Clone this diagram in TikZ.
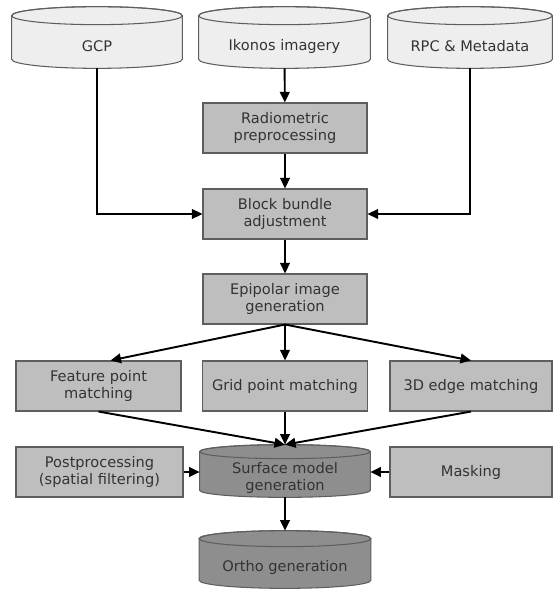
\documentclass[tikz,border=0pt]{standalone}
\usepackage{fontspec}
\setmainfont{DejaVu Sans}
\usetikzlibrary{calc,backgrounds,arrows.meta}

\definecolor{datafill}{HTML}{EEEEEE}
\definecolor{stepfill}{HTML}{BEBEBE}
\definecolor{prodfill}{HTML}{8E8E8E}
\definecolor{edgegray}{HTML}{5E5E5E}
\definecolor{textgray}{HTML}{333333}

\tikzset{
  every node/.style={font=\fontsize{8.3}{9.3}\selectfont, text=textgray, align=center},
  stepbox/.style={draw=edgegray, line width=0.6pt, fill=stepfill, minimum height=1cm, inner sep=0pt},
  cylbody/.style={inner sep=0pt},
  cylline/.style={draw=edgegray, line width=0.6pt},
  flow/.style={line width=1.1pt, -{Triangle[length=6pt,width=5.5pt]}},
}

% cylinder outline behind a named node: name, fill, y radius of the ends
\newcommand\cylback[3]{%
  \draw[cylline, fill=#2] let \p1=(#1.north west), \p2=(#1.north east), \n1={(\x2-\x1)/2} in
    ([yshift=#3]#1.north west) -- ([yshift=#3]#1.south west)
    arc[start angle=180, end angle=360, x radius=\n1, y radius=#3]
    -- ([yshift=#3]#1.north east)
    arc[start angle=0, end angle=180, x radius=\n1, y radius=#3] -- cycle;
  \draw[cylline] let \p1=(#1.north west), \p2=(#1.north east), \n1={(\x2-\x1)/2} in
    ([yshift=#3]#1.north) ellipse[x radius=\n1, y radius=#3];
}

\begin{document}
\begin{tikzpicture}
  \useasboundingbox (0,0) rectangle (11.06,-11.84);
  % input data
  \node[cylbody, minimum width=3.4cm, minimum height=0.86cm] (gcp) at (1.94,-0.93) {GCP};
  \node[cylbody, minimum width=3.42cm, minimum height=0.86cm] (ikonos) at (5.69,-0.93) {Ikonos imagery};
  \node[cylbody, minimum width=3.28cm, minimum height=0.86cm] (rpc) at (9.4,-0.93) {RPC \& Metadata};
  % processing chain
  \node[stepbox, minimum width=3.28cm] (radio) at (5.7,-2.56) {Radiometric\\preprocessing};
  \node[stepbox, minimum width=3.28cm] (bundle) at (5.7,-4.28) {Block bundle\\adjustment};
  \node[stepbox, minimum width=3.28cm] (epi) at (5.7,-5.98) {Epipolar image\\generation};
  \node[stepbox, minimum width=3.3cm] (feat) at (1.97,-7.72) {Feature point\\matching};
  \node[stepbox, minimum width=3.3cm] (grid) at (5.7,-7.72) {Grid point matching};
  \node[stepbox, minimum width=3.24cm] (edge) at (9.42,-7.72) {3D edge matching};
  \node[stepbox, minimum width=3.34cm] (post) at (1.99,-9.44) {Postprocessing\\(spatial filtering)};
  \node[stepbox, minimum width=3.24cm] (mask) at (9.42,-9.44) {Masking};
  % products
  \node[cylbody, minimum width=3.4cm, minimum height=0.76cm] (surf) at (5.7,-9.56) {Surface model\\generation};
  \node[cylbody, minimum width=3.42cm, minimum height=0.82cm] (ortho) at (5.7,-11.35) {Ortho generation};
  \coordinate (surftop) at ([yshift=0.28cm]surf.north);
  \coordinate (orthotop) at ([yshift=0.32cm]ortho.north);

  \begin{scope}[on background layer]
    \cylback{gcp}{datafill}{0.18cm}
    \cylback{ikonos}{datafill}{0.18cm}
    \cylback{rpc}{datafill}{0.18cm}
    \cylback{surf}{prodfill}{0.14cm}
    \cylback{ortho}{prodfill}{0.16cm}
  \end{scope}

  \draw[flow] (ikonos) -- (radio);
  \draw[flow] (radio) -- (bundle);
  \draw[flow] (gcp.south) |- (bundle.west);
  \draw[flow] (rpc.south) |- (bundle.east);
  \draw[flow] (bundle) -- (epi);
  \draw[flow] (epi.south) -- ([xshift=0.24cm]feat.north);
  \draw[flow] (epi.south) -- (grid.north);
  \draw[flow] (epi.south) -- (edge.north);
  \draw[flow] (feat.south) -- (surftop);
  \draw[flow] (grid.south) -- (surftop);
  \draw[flow] (edge.south) -- (surftop);
  \draw[flow] (post.east) -- (post.east -| surf.west);
  \draw[flow] (mask.west) -- (mask.west -| surf.east);
  \draw[flow] (surf.south) -- (orthotop);
\end{tikzpicture}
\end{document}
